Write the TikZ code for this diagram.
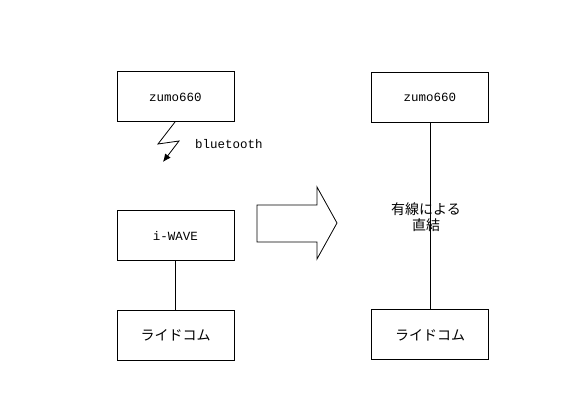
\documentclass[tikz,border=0pt]{standalone}
\usepackage{fontspec}
\setmainfont{Liberation Mono}
\newfontfamily\jpfont{Noto Sans CJK JP}
\usetikzlibrary{arrows.meta}
\begin{document}
\begin{tikzpicture}[x=1pt,y=-1pt,
  box/.style={draw=black,line width=1pt,minimum width=117pt,minimum height=50pt,inner sep=0pt,font=\fontsize{12.5}{14}\selectfont},
  jbox/.style={box,font=\jpfont\fontsize{14}{16}\selectfont},
  link/.style={draw=black,line width=1pt}]
\useasboundingbox (0,0) rectangle (587,419);
\node[box] (zl) at (175.5,97) {zumo660};
\node[box] (iw) at (175.5,235.5) {i-WAVE};
\node[jbox] (rl) at (175.5,335.5) {ライドコム};
\node[box] (zr) at (430,97.5) {zumo660};
\node[jbox] (rr) at (430,335) {ライドコム};
\draw[link] (iw.south) -- (rl.north);
\draw[link] (zr.south) -- (rr.north);
\node[font=\jpfont\fontsize{14}{16}\selectfont,align=center,inner sep=0pt] (txt) at (426,217) {有線による\\直結};
\coordinate (b1) at (158,144);
\coordinate (b2) at (179,141);
\coordinate (b3) at (163,162);
\draw[line width=0.8pt,-{Latex[length=8pt,width=7pt]}] (175,122) -- (b1) -- (b2) -- (b3);
\node[anchor=west,inner sep=0pt,font=\fontsize{12.5}{14}\selectfont] (bt) at (195,144) {bluetooth};
\draw[line width=0.8pt] (257,205) -- (317,205) -- (317,187) -- (337,223) -- (317,259) -- (317,242) -- (257,242) -- cycle;
\end{tikzpicture}
\end{document}
